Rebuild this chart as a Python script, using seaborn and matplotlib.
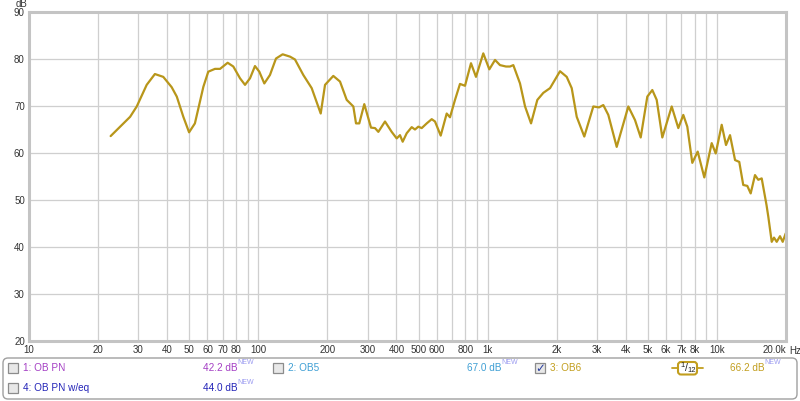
import matplotlib
matplotlib.use("Agg")
import matplotlib.pyplot as plt
from matplotlib.patches import FancyBboxPatch, Rectangle
from matplotlib.lines import Line2D
import seaborn as sns
import pandas as pd

# frequency response of "3: OB6" (1/12 octave smoothing)
freq_hz = [22.7, 27.6, 29.5, 32.6, 35.4, 38.5, 41.9, 44.1, 47.1, 49.9,
           52.9, 57.6, 60.5, 64.7, 68.1, 73.5, 77.8, 83.2, 87.5, 92.0,
           96.7, 101, 106.2, 112.4, 119.4, 127.7, 137.5, 144.5, 157.1, 170.9,
           187.1, 195.4, 212.3, 227.1, 242.9, 259.6, 266.7, 275.6, 289.8, 310,
           322.8, 333.7, 356.8, 381.5, 401.2, 414.7, 426.1, 443.6, 466.5, 482.2,
           498.5, 515.8, 542.4, 570.3, 589.5, 624.2, 662.9, 685.2, 720.5, 757.6,
           796.6, 846, 889.6, 957.2, 1017, 1077, 1132, 1202, 1252, 1294,
           1384, 1456, 1546, 1647, 1749, 1871, 2068, 2212, 2326, 2446,
           2639, 2889, 3059, 3194, 3359, 3654, 4106, 4392, 4650, 4969,
           5225, 5460, 5777, 6348, 6783, 7132, 7424, 7806, 8241, 8806,
           9485, 9874, 10487, 10950, 11400, 11990, 12510, 13020, 13560, 14030,
           14650, 15140, 15670, 16200, 16450, 16750, 17330, 17730, 18220, 18830,
           19350, 19940]
level_db = [63.6, 67.7, 69.9, 74.5, 76.8, 76.2, 74.0, 72.0, 67.7, 64.4,
            66.3, 74.1, 77.3, 77.9, 77.9, 79.2, 78.4, 75.9, 74.5, 75.9,
            78.5, 77.3, 74.8, 76.6, 80.1, 81.0, 80.5, 79.9, 76.6, 73.8,
            68.4, 74.5, 76.4, 75.2, 71.3, 69.9, 66.3, 66.3, 70.4, 65.4,
            65.3, 64.5, 66.7, 64.5, 63.1, 63.8, 62.4, 64.2, 65.5, 65.0,
            65.6, 65.3, 66.3, 67.2, 66.7, 63.7, 68.4, 67.6, 71.3, 74.7,
            74.3, 79.1, 76.2, 81.2, 77.8, 79.8, 78.7, 78.4, 78.4, 78.7,
            74.8, 69.9, 66.3, 71.3, 72.8, 73.8, 77.4, 76.2, 73.8, 67.7,
            63.5, 69.9, 69.7, 70.2, 68.1, 61.3, 69.9, 67.0, 63.3, 72.0,
            73.4, 71.3, 63.3, 69.9, 65.3, 68.1, 65.6, 57.9, 60.3, 54.8,
            62.1, 59.9, 66.0, 61.7, 63.8, 58.5, 58.1, 53.2, 53.0, 51.4,
            55.3, 54.3, 54.6, 50.7, 48.9, 46.4, 41.1, 42.0, 41.1, 42.3,
            41.1, 42.9]

x_ticks = [10, 20, 30, 40, 50, 60, 70, 80, 90,
           100, 200, 300, 400, 500, 600, 700, 800, 900,
           1000, 2000, 3000, 4000, 5000, 6000, 7000, 8000, 9000,
           10000, 20000]
x_labels = ["10", "20", "30", "40", "50", "60", "70", "80", "",
            "100", "200", "300", "400", "500", "600", "", "800", "",
            "1k", "2k", "3k", "4k", "5k", "6k", "7k", "8k", "",
            "10k", "20.0k"]
y_ticks = [20, 30, 40, 50, 60, 70, 80, 90]

# legend rows: (name, colour, level)
traces = [
    ("1: OB PN", "#a43fc4", "42.2 dB"),
    ("2: OB5", "#3f9fd4", "67.0 dB"),
    ("3: OB6", "#c29e1e", "66.2 dB"),
    ("4: OB PN w/eq", "#2424b8", "44.0 dB"),
]

line_color = "#b8961a"

sns.set_theme(style="white")
plt.rcParams["font.family"] = ["Liberation Sans", "DejaVu Sans"]

fig = plt.figure(figsize=(8.0, 4.01), dpi=100)
fig.patch.set_facecolor("white")
ax = fig.add_axes([29 / 800, 1 - 341 / 401, 757 / 800, 329 / 401])

df = pd.DataFrame({"freq": freq_hz, "db": level_db})
sns.lineplot(data=df, x="freq", y="db", ax=ax, color=line_color,
             linewidth=1.6, estimator=None)

ax.set_xscale("log")
ax.set_xlim(10, 20000)
ax.set_ylim(20, 90)
ax.set_xticks(x_ticks)
ax.set_xticklabels(x_labels)
ax.minorticks_off()
ax.set_yticks(y_ticks)
ax.set_xlabel("")
ax.set_ylabel("")
ax.tick_params(axis="both", length=0, labelsize=7, colors="#333333")
ax.tick_params(axis="x", pad=3)
ax.tick_params(axis="y", pad=3)
ax.get_xticklabels()[-1].set_ha("right")
ax.grid(True, color="#cfcfcf", linewidth=0.9)
for s in ax.spines.values():
    s.set_color("#c4c4c4")
    s.set_linewidth(2.2)

fig.text(21 / 800, 1 - 4 / 401, "dB", fontsize=7, color="#333333",
         ha="center", va="center")
fig.text(789 / 800, 1 - 351 / 401, "Hz", fontsize=7, color="#333333",
         ha="left", va="center")

# legend panel drawn in pixel coordinates
lax = fig.add_axes([0, 0, 1, 1], zorder=5)
lax.set_xlim(0, 800)
lax.set_ylim(401, 0)
lax.axis("off")
lax.patch.set_alpha(0)

lax.add_patch(FancyBboxPatch((3, 358), 794, 41, boxstyle="round,pad=0,rounding_size=5",
                             facecolor="white", edgecolor="#a0a0a0", linewidth=1.0))


def checkbox(x, y, checked=False):
    lax.add_patch(Rectangle((x, y - 5), 10, 10, facecolor="#e8e8e8",
                            edgecolor="#8c8c8c", linewidth=0.9))
    if checked:
        lax.text(x + 5.5, y + 0.5, "\u2713", fontsize=8.5, color="#2a3fa0",
                 ha="center", va="center", fontweight="bold",
                 family="DejaVu Sans")


def level(x, y, txt, color):
    lax.text(x, y, txt, fontsize=7.2, color=color, ha="left", va="center")
    lax.text(x + 34, y - 5, "NEW", fontsize=5, color="#9a9af0",
             ha="left", va="center")


rows = [(8, 368, 203), (273, 368, 467), (535, 368, 730), (8, 388, 203)]
for (name, col, lvl), (cx, cy, lx) in zip(traces, rows):
    checkbox(cx, cy, checked=(name == "3: OB6"))
    lax.text(cx + 15, cy, name, fontsize=7.2, color=col, ha="left", va="center")
    level(lx, cy, lvl, col)

# 1/12 smoothing badge
lax.add_line(Line2D([672, 703], [368, 368], color="#c29e1e", linewidth=1.3))
lax.add_patch(FancyBboxPatch((678, 362), 19, 12.5, boxstyle="round,pad=0,rounding_size=3",
                             facecolor="white", edgecolor="#c29e1e", linewidth=1.5,
                             zorder=6))
lax.text(683, 365.5, "1", fontsize=5.5, color="#222222", ha="center",
         va="center", zorder=7)
lax.text(686.5, 368, "/", fontsize=7.5, color="#222222", ha="center",
         va="center", zorder=7)
lax.text(691.5, 370, "12", fontsize=5.5, color="#222222", ha="center",
         va="center", zorder=7)

fig.savefig("out.png", dpi=100)
